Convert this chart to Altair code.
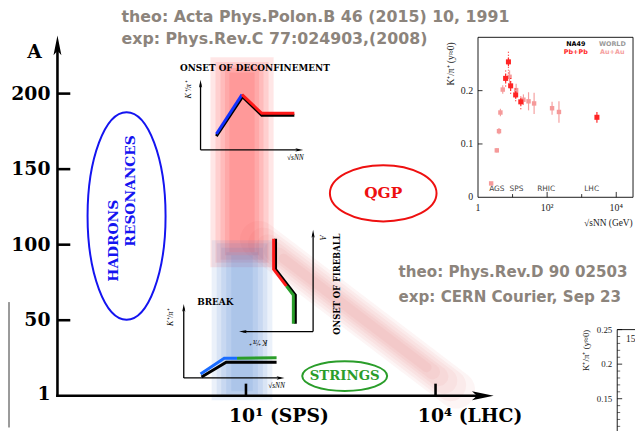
import math
import altair as alt
import pandas as pd

W, H = 635, 423          # chart covers the page inside the 8px margin
OX, OY = 8, 8

# ---------------- data ----------------
# main diagram: x = sqrt(s_NN) [GeV] (log), y = mass number A
Y_TICK_VALUES = [50, 100, 150, 200]
Y_LABEL_VALUES = [1, 50, 100, 150, 200]
Y_LABELS = ["1", "50", "100", "150", "200"]
X_TICK_VALUES = [10, 1e4]
X_LABELS = ["10¹ (SPS)", "10⁴ (LHC)"]
X_LABEL_LEFT = [5.4, 5250]
AXIS_X_MIN, AXIS_X_MAX, AXIS_A_MAX = 0.0104, 5.0e4, 228

BAND_CENTER = 8.66
RED_HALF_DEC = [0.5, 0.42, 0.34, 0.27, 0.2]
RED_TOP = [224, 221, 219, 217, 214]
RED_BOTTOM = [85, 88, 90, 93, 95]
BLUE_HALF_DEC = [0.48, 0.4, 0.33, 0.25, 0.17]
BLUE_TOP = [103, 101, 98, 95, 93]
BLUE_BOTTOM = [-3, -1, 0, 1, 3]
# diagonal "fireball" band: one stroke per blur layer (start/end in sqrt(s), A)
DIAG_S0 = [15.96, 19.1, 22.9, 27.4, 32.8, 39.3]
DIAG_A0 = [103.3, 100.8, 98.3, 95.8, 93.3, 90.8]
DIAG_S1 = [21290, 17140, 13820, 11140, 8980, 7230]
DIAG_A1 = [3.9, 6.9, 9.9, 12.9, 15.8, 18.8]
DIAG_WIDTHS = [38, 32, 26, 20, 15, 10]

ELL_S = [0.129, 1486, 365]
ELL_A = [119, 134, 13]
ELL_RX = [39.5, 54, 43]
ELL_RY = [105, 28.5, 15]
ELL_COLORS = ["#1414f0", "#ee1010", "#2a9d2a"]

# top-right data inset: K+/pi+ vs sqrt(s_NN)
PBPB_S = [6.3, 7.6, 8.8, 12.3, 17.3, 2760]
PBPB_R = [0.223, 0.254, 0.209, 0.192, 0.179, 0.150]
PBPB_E = [0.008, 0.008, 0.008, 0.007, 0.007, 0.010]
PBPB_SYS = [0.015, 0.022, 0.015, 0.012, 0.014, 0.0]
AUAU_S = [2.4, 3.5, 4.05, 4.45, 5.2, 8.2, 12.7, 20.6, 29, 42, 139, 220]
AUAU_R = [0.026, 0.088, 0.124, 0.159, 0.202, 0.226, 0.201, 0.183, 0.180, 0.176, 0.167, 0.160]
AUAU_E = [0.003, 0.004, 0.006, 0.007, 0.008, 0.012, 0.012, 0.010, 0.017, 0.020, 0.012, 0.020]
REGIONS = ["AGS", "SPS", "RHIC", "LHC"]
REGION_S = [3.5, 13, 94, 1940]

# schematic curves (local units 0..10 of each small sketch)
DEC_BLACK_X, DEC_BLACK_Y = [1.6, 4.25, 6.2, 9.5], [2.0, 7.7, 5.0, 5.0]
DEC_BLUE_X, DEC_BLUE_Y = [1.6, 4.2], [2.3, 8.0]
DEC_RED_X, DEC_RED_Y = [4.2, 6.2, 9.5], [8.0, 5.3, 5.3]
BRK_BLACK_X, BRK_BLACK_Y = [1.8, 4.3, 9.4], [0.13, 2.13, 2.13]
BRK_BLUE_X, BRK_BLUE_Y = [1.7, 4.1, 5.4], [0.53, 2.67, 2.67]
BRK_GREEN_X, BRK_GREEN_Y = [5.4, 9.4], [2.67, 2.72]
FIR_BLACK_X, FIR_BLACK_Y = [5.07, 5.07, 2.4, 2.4], [9.4, 6.3, 3.7, 0.8]
FIR_RED_X, FIR_RED_Y = [5.33, 5.33, 3.6], [9.4, 6.3, 4.6]
FIR_GREEN_X, FIR_GREEN_Y = [3.6, 2.67, 2.67], [4.6, 3.7, 0.8]

GRAY = "#8c847c"
SERIF = "DejaVu Serif"
SANS = "DejaVu Sans"
TIMES = "Liberation Serif"

# ---------------- scales ----------------
def dom_lin_x(v0, p0, v1, p1):
    k = (v1 - v0) / (p1 - p0)
    return [v0 + (OX - p0) * k, v0 + (OX + W - p0) * k]

def dom_log_x(v0, p0, v1, p1):
    a, b = dom_lin_x(math.log10(v0), p0, math.log10(v1), p1)
    return [10 ** a, 10 ** b]

def dom_y(v0, p0, v1, p1):
    k = (v1 - v0) / (p1 - p0)
    return [v0 + (OY + H - p0) * k, v0 + (OY - p0) * k]

def sc(dom, log=False):
    if log:
        return alt.Scale(type="log", domain=dom, nice=False)
    return alt.Scale(domain=dom, nice=False, zero=False)

SM = (sc(dom_log_x(10, 249, 1e4, 441), True), sc(dom_y(0, 398, 200, 92)))
SK = (sc(dom_log_x(1, 484, 1e4, 624), True), sc(dom_y(0, 197, 0.2, 89)))
SL = (sc(dom_lin_x(0, 625, 1, 725)), sc(dom_y(0.15, 401, 0.25, 331)))
SD = (sc(dom_lin_x(0, 203, 10, 303)), sc(dom_y(0, 149, 10, 79)))
SB = (sc(dom_lin_x(0, 186, 10, 286)), sc(dom_y(0, 380, 10, 305)))
SF = (sc(dom_lin_x(0, 317, 10, 242)), sc(dom_y(0, 333, 10, 233)))

def E(ch, S, **kw):
    e = dict(x=alt.X("x:Q", scale=S[0], axis=None), y=alt.Y("y:Q", scale=S[1], axis=None))
    e.update(kw)
    return ch.encode(**e)

def line(S, xs, ys, color, width, **kw):
    df = pd.DataFrame({"x": xs, "y": ys, "o": list(range(len(xs)))})
    return E(alt.Chart(df).mark_line(color=color, strokeWidth=width, **kw), S, order="o:Q")

def text(S, xs, ys, labels, **style):
    df = pd.DataFrame({"x": xs, "y": ys, "t": labels})
    return E(alt.Chart(df).mark_text(**style), S, text="t:N")

def rules(S, x, x2, y, y2, **style):
    df = pd.DataFrame({"x": x, "x2": x2, "y": y, "y2": y2})
    return E(alt.Chart(df).mark_rule(**style), S, x2="x2:Q", y2="y2:Q")

def points(S, xs, ys, **style):
    df = pd.DataFrame({"x": xs, "y": ys})
    return E(alt.Chart(df).mark_point(**style), S)

def ellipse_path(rx, ry):
    m = max(rx, ry)
    a, b = rx / m, ry / m
    k = 0.5523
    return (f"M{a:.4f},0 C{a:.4f},{k*b:.4f} {k*a:.4f},{b:.4f} 0,{b:.4f} "
            f"C{-k*a:.4f},{b:.4f} {-a:.4f},{k*b:.4f} {-a:.4f},0 "
            f"C{-a:.4f},{-k*b:.4f} {-k*a:.4f},{-b:.4f} 0,{-b:.4f} "
            f"C{k*a:.4f},{-b:.4f} {a:.4f},{-k*b:.4f} {a:.4f},0 Z"), (2 * m) ** 2

ARROW_UP = "M0,-1 L0.4,1 L0,0.55 L-0.4,1 Z"
ARROW_RIGHT = "M1,0 L-1,0.42 L-0.55,0 L-1,-0.42 Z"
ARROW_LEFT = "M-1,0 L1,-0.42 L0.55,0 L1,0.42 Z"

def head(S, x, y, path, size):
    return points(S, [x], [y], shape=path, size=size, filled=True, color="black", opacity=1)

L = []

# ---------------- main diagram ----------------
red_df = pd.DataFrame({"x": [BAND_CENTER / 10 ** h for h in RED_HALF_DEC],
                       "x2": [BAND_CENTER * 10 ** h for h in RED_HALF_DEC],
                       "y": RED_BOTTOM, "y2": RED_TOP})
L.append(E(alt.Chart(red_df).mark_rect(color="#ff2020", opacity=0.115), SM, x2="x2:Q", y2="y2:Q"))
for s0, a0, s1, a1, w in zip(DIAG_S0, DIAG_A0, DIAG_S1, DIAG_A1, DIAG_WIDTHS):
    L.append(line(SM, [s0, s1], [a0, a1], "#d84848", w, opacity=0.055, strokeCap="round"))
blue_df = pd.DataFrame({"x": [BAND_CENTER / 10 ** h for h in BLUE_HALF_DEC],
                        "x2": [BAND_CENTER * 10 ** h for h in BLUE_HALF_DEC],
                        "y": BLUE_BOTTOM, "y2": BLUE_TOP})
L.append(E(alt.Chart(blue_df).mark_rect(color="#3f78d0", opacity=0.1), SM, x2="x2:Q", y2="y2:Q"))

# axes
L.append(rules(SM, [AXIS_X_MIN, AXIS_X_MIN], [AXIS_X_MAX, AXIS_X_MIN], [0, 0], [0, AXIS_A_MAX],
               color="black", strokeWidth=2.6, strokeCap="square"))
L.append(rules(SM, [AXIS_X_MIN] * 4, [0.0166] * 4, Y_TICK_VALUES, Y_TICK_VALUES,
               color="black", strokeWidth=2.6))
L.append(rules(SM, X_TICK_VALUES, X_TICK_VALUES, [0, 0], [8, 8], color="black", strokeWidth=2.6))
L.append(head(SM, AXIS_X_MIN, 232, ARROW_UP, 400))
L.append(head(SM, 5.6e4, 0, ARROW_RIGHT, 484))
L.append(text(SM, [0.00805] * 5, Y_LABEL_VALUES, Y_LABELS, align="right", baseline="middle",
              font=SERIF, fontWeight="bold", fontSize=19, color="black"))
L.append(text(SM, X_LABEL_LEFT, [-13.4, -13.4], X_LABELS, align="left", baseline="middle",
              font=SERIF, fontWeight="bold", fontSize=19, color="black"))
L.append(text(SM, [0.00453], [227.5], ["A"], align="center", baseline="middle",
              font=SERIF, fontWeight="bold", fontSize=19, color="black"))
# partially visible neighbouring frame at the far left
L.append(rules(SM, [0.00178], [0.00178], [62], [-21], color="#333", strokeWidth=1))

# ellipses + labels
for s, a, rx, ry, c in zip(ELL_S, ELL_A, ELL_RX, ELL_RY, ELL_COLORS):
    p, size = ellipse_path(rx, ry)
    L.append(points(SM, [s], [a], shape=p, size=size, filled=False, color=c, strokeWidth=2, opacity=1))
L.append(text(SM, [0.0805, 0.154], [102.6, 135.6], ["HADRONS", "RESONANCES"], angle=270,
              align="center", baseline="middle", font=SERIF, fontWeight="bold", fontSize=14,
              color=ELL_COLORS[0]))
L.append(text(SM, [ELL_S[1]], [ELL_A[1]], ["QGP"], align="center", baseline="middle",
              font=SERIF, fontWeight="bold", fontSize=15.5, color=ELL_COLORS[1]))
L.append(text(SM, [ELL_S[2]], [ELL_A[2]], ["STRINGS"], align="center", baseline="middle",
              font=SERIF, fontWeight="bold", fontSize=13.5, color=ELL_COLORS[2]))

# references
L.append(text(SM, [0.1075, 0.1075], [250.5, 236.3],
              ["theo: Acta Phys.Polon.B 46 (2015) 10, 1991", "exp: Phys.Rev.C 77:024903,(2008)"],
              align="left", baseline="middle", font=SANS, fontWeight="bold", fontSize=16, color=GRAY))
L.append(text(SM, [2600, 2600], [81.7, 65.4],
              ["theo: Phys.Rev.D 90 02503", "exp: CERN Courier, Sep 23"],
              align="left", baseline="middle", font=SANS, fontWeight="bold", fontSize=15.3, color=GRAY))

# ---------------- sketch: onset of deconfinement ----------------
L.append(rules(SD, [0, 0], [10.0, 0], [0, 0], [0, 9.57], color="black", strokeWidth=1.3))
L.append(head(SD, 10.0, 0, ARROW_RIGHT, 64))
L.append(head(SD, 0, 9.57, ARROW_UP, 64))
L.append(line(SD, DEC_BLACK_X, DEC_BLACK_Y, "black", 3))
L.append(line(SD, DEC_BLUE_X, DEC_BLUE_Y, "#1030ff", 3))
L.append(line(SD, DEC_RED_X, DEC_RED_Y, "#ff1a1a", 3))
L.append(text(SD, [5.5], [11.86], ["ONSET OF DECONFINEMENT"], align="center", baseline="middle",
              font=SERIF, fontWeight="bold", fontSize=9, color="black"))
L.append(text(SD, [-1.2], [8.7], ["K⁺/π⁺"], angle=270, align="center", baseline="middle",
              font=TIMES, fontStyle="italic", fontSize=8, color="black"))
L.append(text(SD, [9.6], [-1.14], ["√sNN"], align="center", baseline="middle",
              font=TIMES, fontStyle="italic", fontSize=7.5, color="black"))

# ---------------- sketch: break ----------------
L.append(rules(SB, [0, 0], [9.8, 0], [0, 0], [0, 9.47], color="black", strokeWidth=1.3))
L.append(head(SB, 9.8, 0, ARROW_RIGHT, 64))
L.append(head(SB, 0, 9.47, ARROW_UP, 64))
L.append(line(SB, BRK_BLACK_X, BRK_BLACK_Y, "black", 3))
L.append(line(SB, BRK_BLUE_X, BRK_BLUE_Y, "#1a6cff", 3))
L.append(line(SB, BRK_GREEN_X, BRK_GREEN_Y, "#2a9d2a", 3))
L.append(text(SB, [3.2], [10.27], ["BREAK"], align="center", baseline="middle",
              font=SERIF, fontWeight="bold", fontSize=9, color="black"))
L.append(text(SB, [-1.3], [8.2], ["K⁺/π⁺"], angle=270, align="center", baseline="middle",
              font=TIMES, fontStyle="italic", fontSize=8, color="black"))
L.append(text(SB, [9.4], [-1.07], ["√sNN"], align="center", baseline="middle",
              font=TIMES, fontStyle="italic", fontSize=7.5, color="black"))

# ---------------- sketch: onset of fireball ----------------
L.append(rules(SF, [0, 0], [9.47, 0], [0, 0], [0, 9.9], color="black", strokeWidth=1.3))
L.append(head(SF, 9.47, 0, ARROW_LEFT, 64))
L.append(head(SF, 0, 9.9, ARROW_UP, 64))
L.append(line(SF, FIR_BLACK_X, FIR_BLACK_Y, "black", 3))
L.append(line(SF, FIR_RED_X, FIR_RED_Y, "#ff1a1a", 3))
L.append(line(SF, FIR_GREEN_X, FIR_GREEN_Y, "#2a9d2a", 3))
L.append(text(SF, [-1.2], [9.5], ["A"], angle=90, align="center", baseline="middle",
              font=TIMES, fontStyle="italic", fontSize=8, color="black"))
L.append(text(SF, [7.33], [-1.1], ["K⁺/π⁺"], angle=180, align="center", baseline="middle",
              font=TIMES, fontStyle="italic", fontSize=8, color="black"))
L.append(text(SF, [-3.2], [4.8], ["ONSET OF FIREBALL"], angle=270, align="center", baseline="middle",
              font=SERIF, fontWeight="bold", fontSize=8.5, color="black"))

# ---------------- inset: K+/pi+ data ----------------
L.append(E(alt.Chart(pd.DataFrame({"x": [1], "x2": [30600], "y": [0], "y2": [0.3]}))
           .mark_rect(filled=False, color="black", strokeWidth=0.9), SK, x2="x2:Q", y2="y2:Q"))
L.append(rules(SK, [1, 1], [1.35, 1.35], [0.1, 0.2], [0.1, 0.2], color="black", strokeWidth=0.8))
L.append(rules(SK, [10, 100, 1000, 1e4], [10, 100, 1000, 1e4], [0] * 4, [0.006, 0.01, 0.006, 0.01],
               color="black", strokeWidth=0.8))
L.append(text(SK, [0.72] * 3, [0, 0.1, 0.2], ["0", "0.1", "0.2"], align="right", baseline="middle",
              font=TIMES, fontSize=10, color="#222"))
L.append(text(SK, [1, 100, 1e4], [-0.021] * 3, ["1", "10²", "10⁴"], align="center", baseline="middle",
              font=TIMES, fontSize=10, color="#222"))
L.append(text(SK, [30000], [-0.048], ["√sNN (GeV)"], align="right", baseline="middle",
              font=TIMES, fontSize=9.5, color="#222"))
L.append(text(SK, [0.169], [0.25], ["K⁺/π⁺ (y≈0)"], angle=270, align="center", baseline="middle",
              font=TIMES, fontSize=9.5, color="#222"))
L.append(text(SK, REGION_S, [0.0148] * 4, REGIONS, align="center", baseline="middle",
              font=SANS, fontSize=7.5, color="#444"))
L.append(text(SK, [675], [0.2865], ["NA49"], align="center", baseline="middle",
              font=SANS, fontWeight="bold", fontSize=6.5, color="black"))
L.append(text(SK, [7690], [0.2865], ["WORLD"], align="center", baseline="middle",
              font=SANS, fontWeight="bold", fontSize=6.5, color="#999"))
L.append(text(SK, [675], [0.2725], ["Pb+Pb"], align="center", baseline="middle",
              font=SANS, fontWeight="bold", fontSize=6.5, color="#ff2a2a"))
L.append(text(SK, [7690], [0.2725], ["Au+Au"], align="center", baseline="middle",
              font=SANS, fontWeight="bold", fontSize=6.5, color="#f5a0a0"))
L.append(rules(SK, AUAU_S, AUAU_S, [r - e for r, e in zip(AUAU_R, AUAU_E)],
               [r + e for r, e in zip(AUAU_R, AUAU_E)], color="#f5a0a0", strokeWidth=1.2))
L.append(E(alt.Chart(pd.DataFrame({"x": AUAU_S, "y": AUAU_R}))
           .mark_square(size=20, color="#f59a9a", opacity=1), SK))
L.append(rules(SK, PBPB_S, PBPB_S, [r - e for r, e in zip(PBPB_R, PBPB_SYS)],
               [r + e for r, e in zip(PBPB_R, PBPB_SYS)], color="#ff2a2a", strokeWidth=1.2,
               strokeDash=[1, 2]))
L.append(rules(SK, PBPB_S, PBPB_S, [r - e for r, e in zip(PBPB_R, PBPB_E)],
               [r + e for r, e in zip(PBPB_R, PBPB_E)], color="#ff2a2a", strokeWidth=1.2))
L.append(E(alt.Chart(pd.DataFrame({"x": PBPB_S, "y": PBPB_R}))
           .mark_square(size=26, color="#ff2424", opacity=1), SK))

# ---------------- inset: lower right (partial) ----------------
LR_MAJOR = [0.25, 0.2, 0.15]
LR_MINOR = [0.24, 0.23, 0.22, 0.21, 0.19, 0.18, 0.17, 0.16, 0.14, 0.13, 0.12, 0.11]
L.append(rules(SL, [0, 0], [0, 0.3], [0.10, 0.25], [0.25, 0.25], color="black", strokeWidth=0.9))
L.append(rules(SL, [0] * 3, [0.05] * 3, LR_MAJOR, LR_MAJOR, color="black", strokeWidth=0.8))
L.append(rules(SL, [0] * len(LR_MINOR), [0.03] * len(LR_MINOR), LR_MINOR, LR_MINOR,
               color="black", strokeWidth=0.6))
L.append(text(SL, [-0.05] * 3, LR_MAJOR, ["0.25", "0.2", "0.15"], align="right", baseline="middle",
              font=TIMES, fontSize=9, color="#222"))
L.append(text(SL, [-0.32], [0.22], ["K⁺/π⁺ (y≈0)"], angle=270, align="center", baseline="middle",
              font=TIMES, fontSize=9, color="#222"))
L.append(text(SL, [0.09], [0.237], ["15"], align="left", baseline="middle",
              font=TIMES, fontSize=9.5, color="#222"))

chart = (alt.layer(*L)
         .resolve_scale(x="independent", y="independent")
         .properties(width=W, height=H, autosize=alt.AutoSizeParams(type="none"), padding=0)
         .configure_view(stroke=None))
chart.save("out.html", embed_options={"renderer": "svg", "actions": False})
